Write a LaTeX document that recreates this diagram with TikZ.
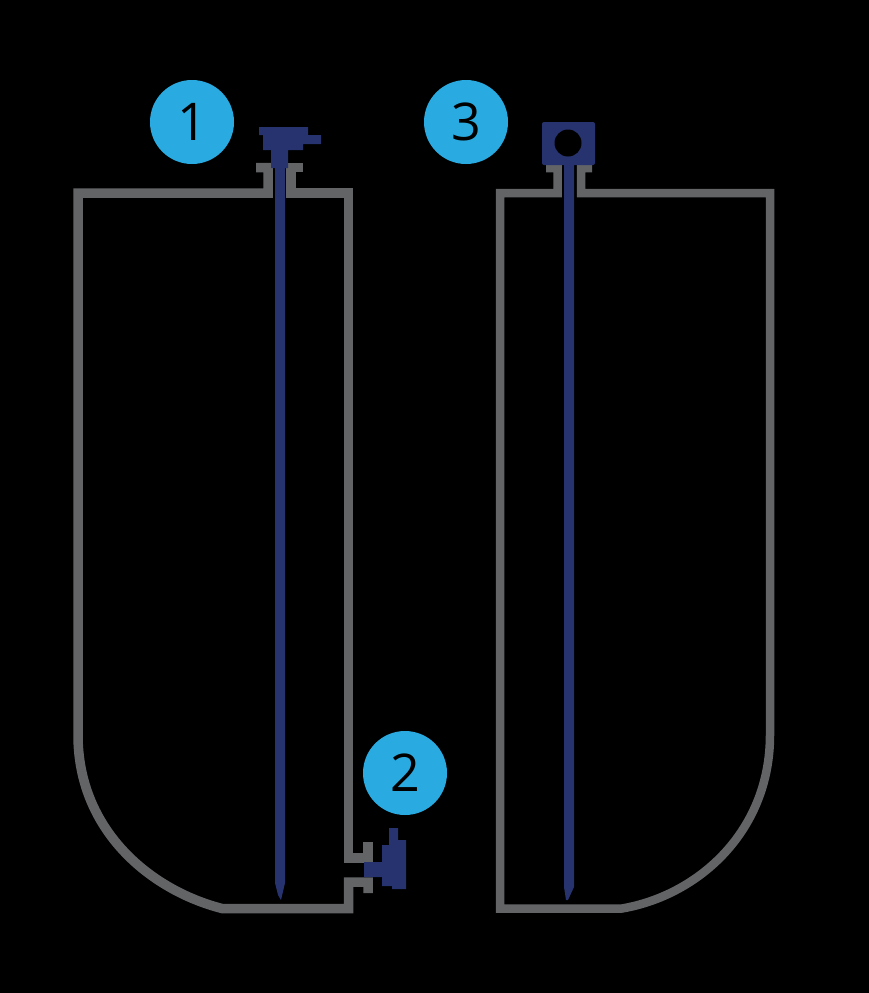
\documentclass[tikz,border=0pt]{standalone}
\usepackage{xcolor}
\usepackage{fontspec}
\setmainfont{Open Sans}
\definecolor{cBack}{HTML}{000000}
\definecolor{cShell}{HTML}{636466}
\definecolor{cProbe}{HTML}{27336E}
\definecolor{cBadge}{HTML}{29ABE2}
\usepackage{tikz}
\tikzset{
  tank-wall/.style={draw=cShell,line width=9.5pt,line join=miter},
  tank-wall-thin/.style={draw=cShell,line width=8.5pt,line join=miter},
  probe/.style={fill=cProbe,draw=none},
  badge/.style={circle,fill=cBadge,minimum size=84pt,inner sep=0pt,
    text=black,font=\fontsize{52}{52}\selectfont},
}

\begin{document}
\begin{tikzpicture}[x=1pt,y=-1pt]
  \fill[cBack] (0,0) rectangle (869,993);
  % left tank
  \draw[tank-wall] (256,167.5) -- (268,167.5) -- (268,193) -- (78,193) -- (78,735)
    .. controls (78,830) and (150,890) .. (222,908.5) -- (348.5,908.5)
    -- (348.5,882) -- (368,882) -- (368,893);
  \draw[tank-wall] (303,167.5) -- (291,167.5) -- (291,193) -- (348.5,193)
    -- (348.5,858) -- (368,858) -- (368,842);
  % right tank
  \draw[tank-wall-thin] (546,168) -- (557.5,168) -- (557.5,193) -- (500,193)
    -- (500,908.5) -- (622,908.5)
    .. controls (700,895) and (770,830) .. (770,735) -- (770,193)
    -- (581,193) -- (581,168) -- (592,168);
  % probes
  \fill[probe] (275,200) -- (285,200) -- (285,883) -- (281,900) -- (278,895) -- (275,883) -- cycle;
  \fill[probe] (259,127) -- (308,127) -- (308,135) -- (321,135) -- (321,144) -- (303,144)
    -- (303,150) -- (288,150) -- (288,168) -- (285,168) -- (285,200) -- (275,200)
    -- (275,168) -- (271,168) -- (271,150) -- (263,150) -- (263,135) -- (259,135) -- cycle;
  \fill[probe] (364,862) -- (382,862) -- (382,845) -- (389,845) -- (389,828) -- (398,828)
    -- (398,840) -- (406,840) -- (406,889) -- (392,889) -- (392,886) -- (382,886)
    -- (382,877) -- (364,877) -- cycle;
  \fill[probe] (564,160) -- (574,160) -- (574,887) -- (568,900) -- (566,900) -- (564,887) -- cycle;
  \fill[probe,rounded corners=2pt] (542,122) rectangle (595,165);
  \fill[cBack] (568,143) circle (13.5);
  % badges
  \node[badge] (one) at (192,122) {1};
  \node[badge] (two) at (405,773) {2};
  \node[badge] (three) at (466,122) {3};
\end{tikzpicture}
\end{document}
